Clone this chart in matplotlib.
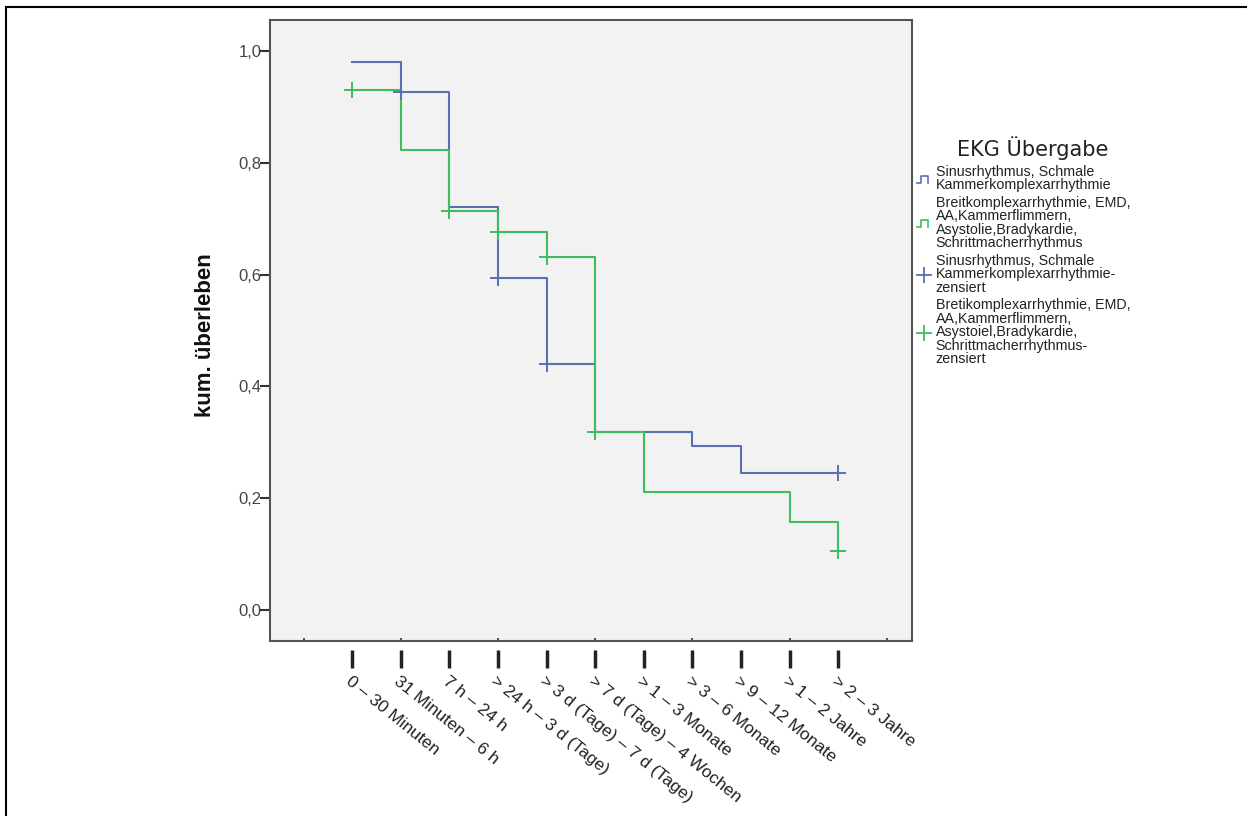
import matplotlib
matplotlib.use("Agg")
import matplotlib.pyplot as plt
from matplotlib.lines import Line2D
from matplotlib.legend_handler import HandlerBase
from matplotlib.patches import Rectangle
from matplotlib import font_manager

# ---------------- data ----------------
categories = ["0 – 30 Minuten", "31 Minuten – 6 h", "7 h – 24 h", "> 24 h – 3 d (Tage)",
              "> 3 d (Tage) – 7 d (Tage)", "> 7 d (Tage) – 4 Wochen", "> 1 – 3 Monate",
              "> 3 – 6 Monate", "> 9 – 12 Monate", "> 1 – 2 Jahre", "> 2 – 3 Jahre"]
x_pos = list(range(len(categories)))

sinus_surv = [0.980, 0.927, 0.721, 0.594, 0.440, 0.318, 0.318, 0.293, 0.245, 0.245, 0.245]
breit_surv = [0.930, 0.823, 0.714, 0.676, 0.632, 0.318, 0.212, 0.212, 0.212, 0.158, 0.105]

sinus_cens_x = [1, 3, 4, 10]
sinus_cens_y = [0.927, 0.594, 0.440, 0.245]
breit_cens_x = [0, 2, 3, 4, 5, 10]
breit_cens_y = [0.930, 0.714, 0.676, 0.632, 0.318, 0.105]

y_ticks = [0.0, 0.2, 0.4, 0.6, 0.8, 1.0]
y_tick_labels = ["0,0", "0,2", "0,4", "0,6", "0,8", "1,0"]
minor_x = [-1, 1, 3, 5, 7, 9, 11]

legend_title = "EKG Übergabe"
legend_labels = [
    "Sinusrhythmus, Schmale\nKammerkomplexarrhythmie",
    "Breitkomplexarrhythmie, EMD,\nAA,Kammerflimmern,\nAsystolie,Bradykardie,\nSchrittmacherrhythmus",
    "Sinusrhythmus, Schmale\nKammerkomplexarrhythmie-\nzensiert",
    "Bretikomplexarrhythmie, EMD,\nAA,Kammerflimmern,\nAsystoiel,Bradykardie,\nSchrittmacherrhythmus-\nzensiert",
]
ylabel = "kum. überleben"

BLUE = "#5a6fb0"
GREEN = "#3dbd5c"

avail = {f.name for f in font_manager.fontManager.ttflist}
narrow = ["Liberation Sans Narrow", "Liberation Sans", "DejaVu Sans"] if "Liberation Sans Narrow" in avail \
    else ["Liberation Sans", "DejaVu Sans"]
sans = ["Liberation Sans", "DejaVu Sans"]

fig = plt.figure(figsize=(12.47, 8.16), dpi=100)
fig.patch.set_facecolor("white")

# outer frame (left and top edges visible)
fig.add_artist(Rectangle((6 / 1247, -0.5), 2.0, 0.5 + 1 - 7 / 816, transform=fig.transFigure,
                         fill=False, edgecolor="black", linewidth=1.5))

ax = fig.add_axes([270 / 1247, 1 - 641 / 816, (912 - 270) / 1247, (641 - 20) / 816])
ax.set_facecolor("#f2f2f2")
for s in ax.spines.values():
    s.set_color("#555555")
    s.set_linewidth(1.5)

ax.plot(x_pos, sinus_surv, drawstyle="steps-post", color=BLUE, lw=1.5)
ax.plot(x_pos, breit_surv, drawstyle="steps-post", color=GREEN, lw=1.5)
ax.plot(sinus_cens_x, sinus_cens_y, ls="none", marker="+", ms=11, mew=1.4, color=BLUE)
ax.plot(breit_cens_x, breit_cens_y, ls="none", marker="+", ms=11, mew=1.4, color=GREEN)

ax.set_xlim(-1.69, 11.52)
ax.set_ylim(-0.055, 1.055)

ax.set_yticks(y_ticks)
ax.set_yticklabels(y_tick_labels, fontfamily=sans, fontsize=12, color="#444444")
ax.tick_params(axis="y", direction="out", length=7, width=1.5, color="#333333", pad=-1)

# small dots on the main bottom spine
ax.set_xticks(minor_x)
ax.set_xticklabels([])
ax.tick_params(axis="x", direction="in", length=2, width=1.5, color="#555555")

# detached category ticks below the axis
sec = ax.secondary_xaxis(-0.0145)
sec.spines["bottom"].set_visible(False)
sec.set_xticks(x_pos)
sec.set_xticklabels(categories, rotation=-39, ha="left", va="top", rotation_mode="anchor",
                    fontfamily=narrow, fontsize=12.5, color="#222222")
sec.tick_params(axis="x", direction="out", length=13, width=2.5, color="#222222", pad=4)

fig.text(205 / 1247, 1 - 335 / 816, ylabel, rotation=90, ha="center", va="center",
         fontfamily=narrow, fontweight="bold", fontsize=16, color="#111111")


class StepHandler(HandlerBase):
    def create_artists(self, legend, orig_handle, xdescent, ydescent, width, height, fontsize, trans):
        cx = -xdescent + width * 0.5
        cy = -ydescent + height * 0.5
        w = 5.0
        h = 5.0
        xs = [cx - w, cx - w * 0.5, cx - w * 0.5, cx + w * 0.5, cx + w * 0.5]
        ys = [cy - h * 0.5, cy - h * 0.5, cy + h * 0.5, cy + h * 0.5, cy - h * 0.5]
        ln = Line2D(xs, ys, color=orig_handle.get_color(), lw=1.2, transform=trans)
        return [ln]


h1 = Line2D([], [], color=BLUE)
h2 = Line2D([], [], color=GREEN)
h3 = Line2D([], [], color=BLUE, ls="none", marker="+", ms=11, mew=1.3)
h4 = Line2D([], [], color=GREEN, ls="none", marker="+", ms=11, mew=1.3)

leg = ax.legend([h1, h2, h3, h4], legend_labels,
                handler_map={h1: StepHandler(), h2: StepHandler()},
                loc="upper left", bbox_to_anchor=(917 / 1247, 1 - 165 / 816),
                bbox_transform=fig.transFigure, frameon=False,
                prop={"family": sans, "size": 10.3},
                handlelength=1.0, handletextpad=0.3, labelspacing=0.25, borderaxespad=0,
                borderpad=0)
for t in leg.get_texts():
    t.set_linespacing(0.95)
    t.set_color("#222222")

fig.text(1033 / 1247, 1 - 156 / 816, legend_title, ha="center", va="baseline",
         fontfamily=["DejaVu Sans"], fontsize=15, color="#222222")

fig.savefig("out.png", dpi=100, facecolor="white")
